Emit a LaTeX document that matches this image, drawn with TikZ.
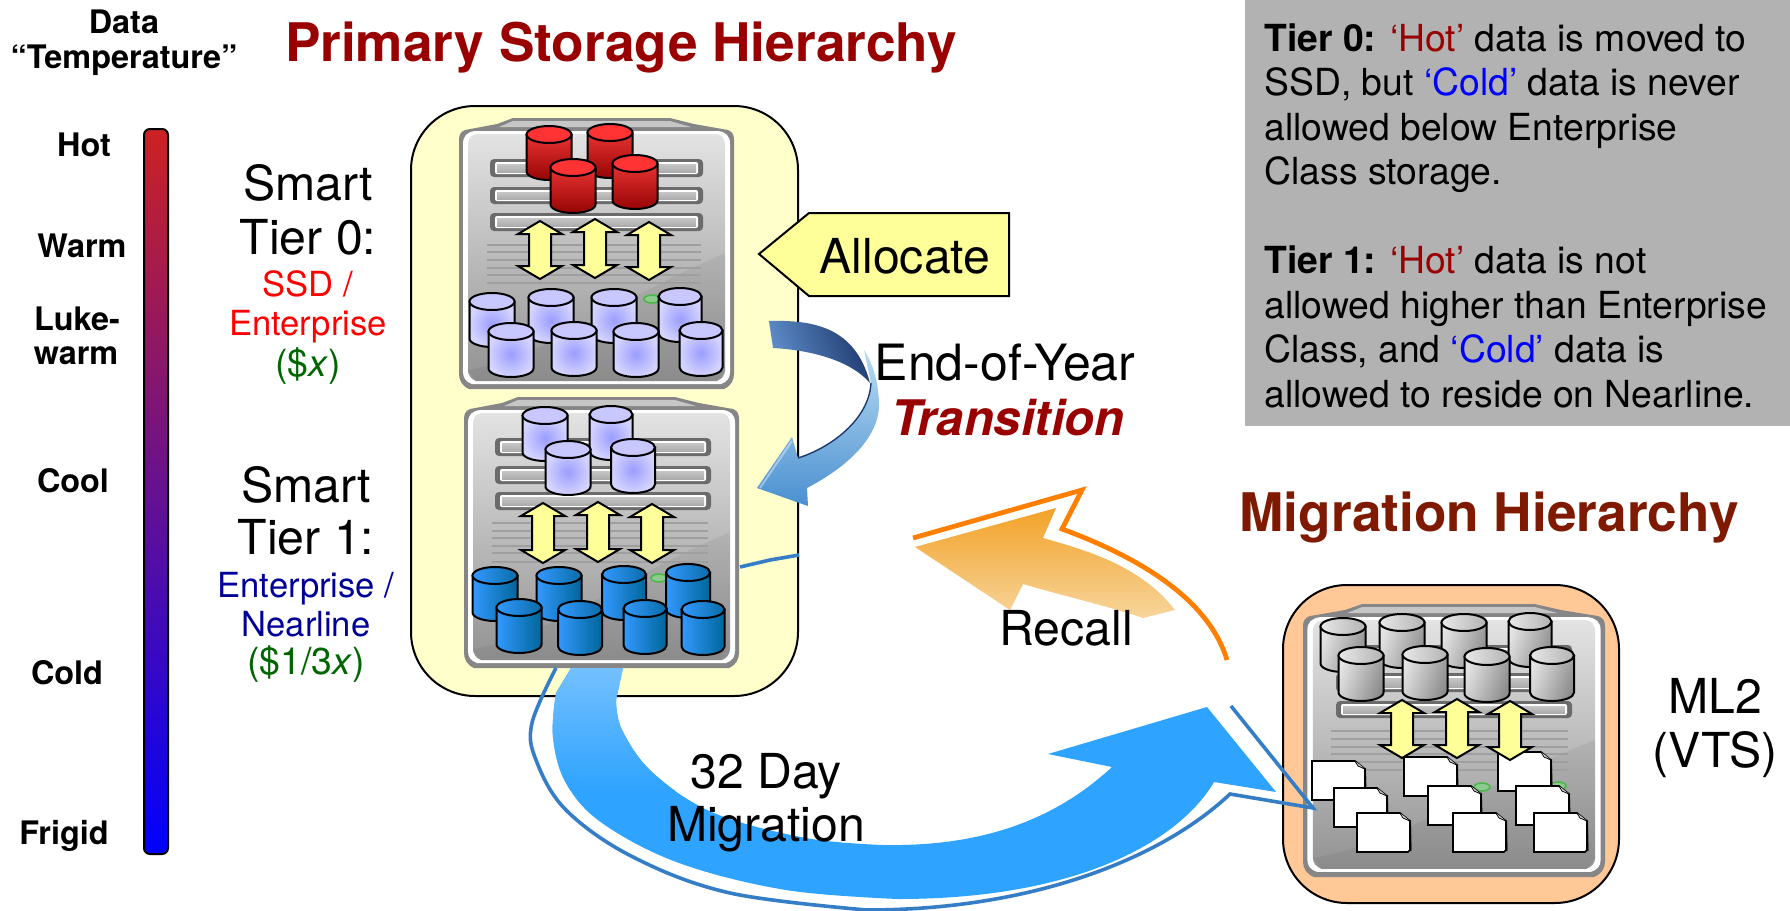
\documentclass[tikz,border=0pt]{standalone}
\usepackage{fontspec}
\setmainfont{TeX Gyre Heros}
\definecolor{hot}{HTML}{990000}
\definecolor{mig}{HTML}{7F1A00}
\definecolor{boxy}{HTML}{FFFFCC}
\definecolor{boxo}{HTML}{FFC896}
\definecolor{ally}{HTML}{FFFF99}
\definecolor{gry}{HTML}{B2B2B2}
\definecolor{blueline}{HTML}{357EC7}
\definecolor{orl}{HTML}{FF8000}
\definecolor{tgreen}{HTML}{006600}
\definecolor{tblue}{HTML}{000099}
\newcommand{\defc}[1]{\definecolor{c#1}{HTML}{#1}}
\defc{EA3232}\defc{960505}\defc{FF3333}\defc{9C9CFF}\defc{D4D4FF}\defc{C8C8FF}
\defc{3399FF}\defc{006699}\defc{0A6CA8}\defc{E4E4E4}\defc{8C8C8C}\defc{E8E8E8}\defc{B4B4B4}
\defc{CC2222}\defc{A01CA8}\defc{0000FF}\defc{B9DDF3}\defc{4A8FD0}\defc{5F8ECB}\defc{1F3A6E}
\defc{F2A228}\defc{F2A42C}\defc{F7D59C}\defc{74C0FF}\defc{2EA3FF}
\tikzset{
  x=0.5pt,y=-0.5pt,
  lab/.style={anchor=base,inner sep=0pt,align=center,font=\fontsize{16.2}{18}\selectfont\bfseries},
  big/.style={anchor=base,inner sep=0pt,font=\fontsize{24.1}{26}\selectfont},
  sub/.style={anchor=base,inner sep=0pt,font=\fontsize{17.3}{19}\selectfont},
  cost/.style={anchor=base,inner sep=0pt,text=tgreen,font=\fontsize{18.7}{20}\selectfont},
  ttl/.style={anchor=base,inner sep=0pt,font=\fontsize{26.6}{30}\selectfont\bfseries},
  redbody/.style={top color=cEA3232,bottom color=c960505},
  redtop/.style={fill=cFF3333},
  lavbody/.style={inner color=c9C9CFF,outer color=cD4D4FF},
  lavtop/.style={fill=cC8C8FF},
  blubody/.style={left color=c3399FF,right color=c006699},
  blutop/.style={left color=c3399FF,right color=c0A6CA8},
  grybody/.style={left color=cE4E4E4,right color=c8C8C8C,shading angle=70},
  grytop/.style={left color=cE8E8E8,right color=cB4B4B4},
}
\newcommand{\cyl}[4]{%
  \pgfmathsetmacro\cxl{#1-#3/2}\pgfmathsetmacro\cxr{#1+#3/2}%
  \pgfmathsetmacro\ct{#2+8.5}\pgfmathsetmacro\cb{#2+45.5}\pgfmathsetmacro\cbb{#2+54}%
  \pgfmathsetmacro\ka{#3/2*.55}\pgfmathsetmacro\cbk{#2+50.2}%
  \path[draw=black,line width=1pt,#4body] (\cxl,\ct) -- (\cxl,\cb) .. controls (\cxl,\cbk) and (#1-\ka,\cbb) .. (#1,\cbb) .. controls (#1+\ka,\cbb) and (\cxr,\cbk) .. (\cxr,\cb) -- (\cxr,\ct) -- cycle;
  \path[draw=black,line width=1pt,#4top] (#1,\ct) ellipse [x radius=#3/2,y radius=8.5];
}
\newcommand{\srv}[4]{%
  \begin{scope}[shift={(#1,#2)},xscale=#3/275,yscale=#4/271]
    \fill[gray!95] (0,22) .. controls (0,16) and (2,14) .. (6,12) -- (38,6) -- (54,0) -- (211,0) -- (235,6) -- (269,12) .. controls (273,14) and (275,16) .. (275,22) -- (275,256) .. controls (275,262) and (272,268) .. (265,271) -- (10,271) .. controls (3,268) and (0,262) .. (0,256) -- cycle;
    \fill[gray!45] (54,3) -- (211,3) -- (232,9) -- (40,9) -- cycle;
    \fill[white] (4,26) .. controls (4,18) and (8,14) .. (16,13) -- (259,13) .. controls (267,14) and (271,18) .. (271,26) -- (271,254) .. controls (271,260) and (268,264) .. (262,266) -- (13,266) .. controls (7,264) and (4,260) .. (4,254) -- cycle;
    \path[top color=gray!22,middle color=gray!52,bottom color=gray!85] (9,28) .. controls (9,20) and (12,17) .. (18,16) -- (257,16) .. controls (263,17) and (266,20) .. (266,28) -- (266,252) .. controls (266,257) and (263,261) .. (258,263) -- (17,263) .. controls (12,261) and (9,257) .. (9,252) -- cycle;
    \fill[black,opacity=.05] (9,252) .. controls (90,238) and (150,185) .. (266,135) -- (266,252) -- (258,263) -- (17,263) -- cycle;
  \end{scope}}
\newcommand{\srvbar}[4]{%
  \fill[black!58,rounded corners=2pt] (#1,#2) rectangle (#3,#4);
  \fill[white,rounded corners=1pt] (#1+5,#2+3) rectangle (#3-5,#4-3);
  \path[top color=gray!45,bottom color=gray!65] (#1+7,#2+5) rectangle (#3-7,#4-5);
}
\newcommand{\dbl}[3]{%
  \pgfmathsetmacro\da{#2+13}\pgfmathsetmacro\db{#3-13}%
  \draw[fill=ally,line width=1pt,line join=miter] (#1,#2) -- (#1+22,\da) -- (#1+11,\da) -- (#1+11,\db) -- (#1+22,\db) -- (#1,#3) -- (#1-22,\db) -- (#1-11,\db) -- (#1-11,\da) -- (#1-22,\da) -- cycle;
}
\newcommand{\docu}[2]{%
  \draw[gray!60!black,line width=1pt] (#1+53,#2+7) -- (#1+54,#2+38);
  \draw[fill=white,line width=.8pt] (#1,#2) -- (#1+43,#2) -- (#1+53,#2+8) -- (#1+53,#2+37) -- (#1+51,#2+39) -- (#1,#2+39) -- cycle;
  \draw[fill=gray!25,line width=.4pt] (#1+43,#2) -- (#1+46,#2+5) -- (#1+53,#2+8);
}
\newcommand{\hlines}[7]{%
  \foreach \yy in {#3,#4,#5,#6,#7}{\draw[gray!75,line width=1pt] (#1,\yy) -- (#2,\yy);}%
}
\newcommand{\led}[2]{%
  \draw[draw=green!60!black!70,fill=green!55!black!45,line width=.8pt] (#1,#2) ellipse [x radius=8,y radius=4];
}
\newcommand{\migpath}{(571,668) -- (623,668)
  -- plot[smooth,tension=.6] coordinates {(616,700) (622,730) (653,773) (714,813) (806,838) (883,845)}
  .. controls (990,847) and (1060,815) .. (1112,767)
  -- (1048,754) -- (1207,707) -- (1276,792) -- (1214,782)
  .. controls (1180,840) and (1080,899) .. (898,899)
  -- plot[smooth,tension=.6] coordinates {(898,899) (786,890) (679,863) (602,823) (566,783) (553,737) (556,693)} -- cycle}
\begin{document}
\begin{tikzpicture}
\useasboundingbox (0,0) rectangle (1790,911);
\fill[white] (0,0) rectangle (1790,911);
% left scale
\node[lab] (tempa) at (124,33) {Data};
\node[lab] (tempb) at (124,68) {“Temperature”};
\path[draw=black,line width=1pt,top color=cCC2222,middle color=cA01CA8,bottom color=c0000FF,rounded corners=3pt] (144,129) rectangle (168,854);
\node[lab] (lhot) at (84,156) {Hot};
\node[lab] (lwarm) at (82,257) {Warm};
\node[lab] (lluke) at (77,330) {Luke-};
\node[lab] (lluke2) at (76,364) {warm};
\node[lab] (lcool) at (73,492) {Cool};
\node[lab] (lcold) at (67,684) {Cold};
\node[lab] (lfrig) at (64,844) {Frigid};
% titles
\node[ttl,text=hot] (t1) at (621,61.5) {Primary Storage Hierarchy};
\node[ttl,text=mig] (t2) at (1489,531) {Migration Hierarchy};
% grey box
\fill[gry] (1245,0) rectangle (1790,426);
\node[anchor=north west,inner sep=0pt,align=left,font=\fontsize{18.65}{22.25}\selectfont] (note) at (1264,23) {%
\textbf{Tier 0:} \textcolor{hot}{‘Hot’} data is moved to\\
SSD, but \textcolor{blue}{‘Cold’} data is never\\
allowed below Enterprise\\
Class storage.\\
\mbox{}\\
\textbf{Tier 1:} \textcolor{hot}{‘Hot’} data is not\\
allowed higher than Enterprise\\
Class, and \textcolor{blue}{‘Cold’} data is\\
allowed to reside on Nearline.};
% containers
\draw[fill=boxy,line width=1pt,rounded corners=32pt] (411,106) rectangle (798,696);
\draw[fill=boxo,line width=1pt,rounded corners=32pt] (1283,585) rectangle (1619,903);
% server 1
\srv{459}{118}{275}{271}
\srvbar{490}{159}{703}{177}\srvbar{490}{187}{703}{204}\srvbar{490}{213}{703}{231}
\hlines{487}{701}{245}{252}{260}{268}{275}
\draw[gray!75,line width=1pt] (487,283) -- (701,283);
\led{652}{299}
\cyl{549}{126}{45}{red}\cyl{610}{124}{45}{red}\cyl{573}{159}{45}{red}\cyl{635}{155}{45}{red}
\cyl{492}{293}{45}{lav}\cyl{551}{289}{45}{lav}\cyl{614}{289}{45}{lav}\cyl{680}{288}{43}{lav}
\cyl{511}{323}{45}{lav}\cyl{574}{322}{45}{lav}\cyl{636}{323}{45}{lav}\cyl{701}{322}{43}{lav}
\dbl{540}{221}{279}\dbl{595}{219}{278}\dbl{649}{222}{280}
% server 2
\srv{464}{397}{275}{271}
\srvbar{495}{438}{711}{456}\srvbar{495}{466}{711}{484}\srvbar{495}{492}{711}{510}
\hlines{492}{708}{523}{531}{538}{546}{553}
\draw[gray!75,line width=1pt] (492,562) -- (708,562);
\led{659}{578}
\cyl{545}{407}{45}{lav}\cyl{611}{406}{43}{lav}\cyl{568}{441}{45}{lav}\cyl{633}{439}{44}{lav}
\cyl{495}{567}{45}{blu}\cyl{559}{567}{45}{blu}\cyl{624}{566}{44}{blu}\cyl{688}{564}{44}{blu}
\cyl{519}{599}{45}{blu}\cyl{580}{601}{44}{blu}\cyl{645}{600}{43}{blu}\cyl{703}{601}{43}{blu}
\dbl{543}{503}{563}\dbl{598}{502}{562}\dbl{652}{504}{563}
\draw[blueline,line width=1.8pt] (740,567) -- (770,560) -- (799,555);
% server 3
\srv{1303}{604}{302}{273}
\srvbar{1336}{645}{1572}{663}\srvbar{1336}{673}{1572}{692}\srvbar{1336}{701}{1572}{718}
\hlines{1331}{1568}{731}{739}{747}{754}{762}
\draw[gray!75,line width=1pt] (1331,770) -- (1568,770);
\led{1482}{787}\led{1558}{786}
\cyl{1343}{618}{45}{gry}\cyl{1402}{614}{45}{gry}\cyl{1464}{614}{45}{gry}\cyl{1530}{613}{43}{gry}
\cyl{1361}{647}{45}{gry}\cyl{1425}{646}{45}{gry}\cyl{1487}{648}{45}{gry}\cyl{1552}{647}{44}{gry}
\docu{1312}{761}\docu{1334}{788}\docu{1357}{813}
\docu{1404}{757}\docu{1428}{786}\docu{1453}{813}
\docu{1498}{752}\docu{1516}{786}\docu{1534}{813}
\dbl{1402}{700}{758}\dbl{1457}{699}{758}\dbl{1510}{701}{760}
% Allocate
\draw[fill=ally,line width=1pt] (759,254) -- (809,213) -- (1009,213) -- (1009,296) -- (809,296) -- cycle;
\node[big] (lalloc) at (905,273) {Allocate};
% end of year arrow
\path[top color=cB9DDF3,bottom color=c4A8FD0] (864,350) .. controls (874,365) and (879,385) .. (879,407) .. controls (878,430) and (860,460) .. (807,488) -- (808,506) -- (757,488) -- (792,437) -- (798,458) .. controls (830,448) and (869,420) .. (871,383) -- cycle;
\path[left color=c5F8ECB,right color=c1F3A6E,shading angle=110] (769,321) .. controls (810,320) and (855,325) .. (870,383) .. controls (850,360) and (810,350) .. (773,348) -- cycle;
\draw[c1F3A6E,line width=.7pt] (871,383) .. controls (869,420) and (830,448) .. (798,458);
\draw[white,opacity=.4,line width=1pt] (760,488) -- (792,441);
\node[big,font=\fontsize{25}{27}\selectfont] (leoy) at (1005,380) {End-of-Year};
\node[big,text=hot,font=\fontsize{24.5}{27}\selectfont\bfseries\itshape] (ltrans) at (1008,435) {Transition};
% recall arrow
\path[top color=cF2A228,middle color=cF2A42C,bottom color=cF7D59C] (915,547) -- (1056,508) -- (1043,538) .. controls (1085,550) and (1140,565) .. (1175,610) -- (1143,618) .. controls (1115,608) and (1060,595) .. (1023,584) -- (1010,610) -- cycle;
\draw[orl,line width=2.4pt,line join=miter] (1227,660) .. controls (1212,610) and (1160,565) .. (1062,529) -- (1082,490) -- (913,538);
\node[big] (lrecall) at (1066,645) {Recall};
% migration arrow
\fill[c2EA3FF] \migpath;
\begin{scope}
\clip \migpath;
\path[top color=c74C0FF,bottom color=c2EA3FF] (530,668) rectangle (720,790);
\end{scope}
\draw[blueline,line width=1.8pt,line join=miter] plot[smooth,tension=.6] coordinates {(556,668) (532,723) (536,760) (566,810) (633,857) (730,893) (867,910)} .. controls (1030,910) and (1160,860) .. (1230,794) -- (1313,808) -- (1231,706);
\node[big] (l32) at (766,788) {32 Day};
\node[big] (lmig) at (766,841) {Migration};
% tier labels
\node[big] (s0a) at (308,200) {Smart};
\node[big] (s0b) at (308,254) {Tier 0:};
\node[sub,text=red] (s0c) at (308,296) {SSD /};
\node[sub,text=red] (s0d) at (308,335) {Enterprise};
\node[cost] (s0e) at (308,376) {(\$\textit{x})};
\node[big] (s1a) at (306,502) {Smart};
\node[big] (s1b) at (306,554) {Tier 1:};
\node[sub,text=tblue] (s1c) at (306,597) {Enterprise /};
\node[sub,text=tblue] (s1d) at (306,636) {Nearline};
\node[cost] (s1e) at (306,674) {(\$1/3\textit{x})};
\node[big] (ml2a) at (1715,713) {ML2};
\node[big] (ml2b) at (1715,767) {(VTS)};
\end{tikzpicture}
\end{document}
